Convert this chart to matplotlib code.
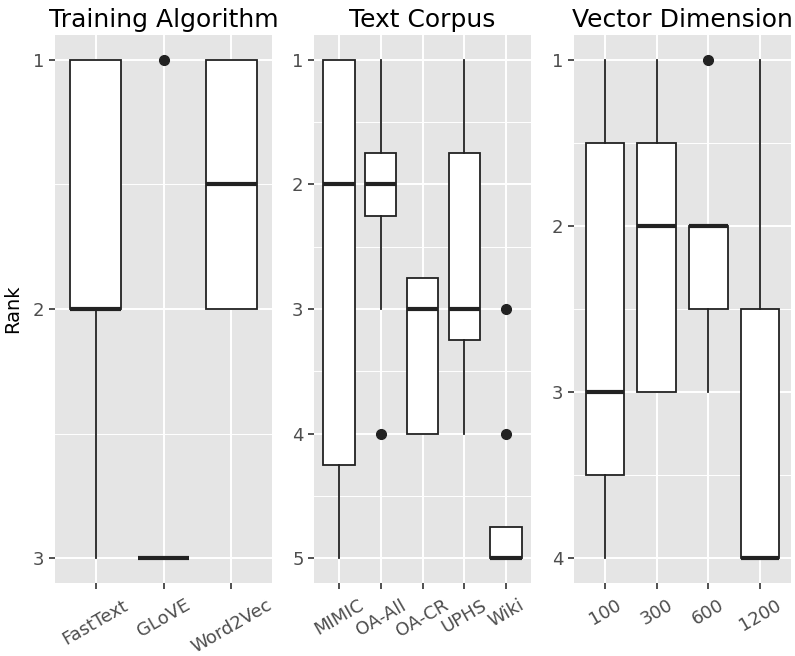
import matplotlib
matplotlib.use("Agg")
import matplotlib.pyplot as plt

# panel titles and categories
titles = ["Training Algorithm", "Text Corpus", "Vector Dimension"]
cats_algo = ["FastText", "GLoVE", "Word2Vec"]
cats_corpus = ["MIMIC", "OA-All", "OA-CR", "UPHS", "Wiki"]
cats_dim = ["100", "300", "600", "1200"]

# box stats per category: lower whisker, q1, median, q3, upper whisker, outliers
whislo_algo = [1, 3, 1]
q1_algo = [1, 3, 1]
med_algo = [2, 3, 1.5]
q3_algo = [2, 3, 2]
whishi_algo = [3, 3, 2]
fliers_algo = [[], [1], []]

whislo_corpus = [1, 1, 2.75, 1, 4.75]
q1_corpus = [1, 1.75, 2.75, 1.75, 4.75]
med_corpus = [2, 2, 3, 3, 5]
q3_corpus = [4.25, 2.25, 4, 3.25, 5]
whishi_corpus = [5, 3, 4, 4, 5]
fliers_corpus = [[], [4], [], [], [3, 4]]

whislo_dim = [1, 1, 2, 1]
q1_dim = [1.5, 1.5, 2, 2.5]
med_dim = [3, 2, 2, 4]
q3_dim = [3.5, 3, 2.5, 4]
whishi_dim = [4, 3, 3, 4]
fliers_dim = [[], [], [1], []]

panels = [
    (cats_algo, whislo_algo, q1_algo, med_algo, q3_algo, whishi_algo, fliers_algo, [1, 2, 3]),
    (cats_corpus, whislo_corpus, q1_corpus, med_corpus, q3_corpus, whishi_corpus, fliers_corpus, [1, 2, 3, 4, 5]),
    (cats_dim, whislo_dim, q1_dim, med_dim, q3_dim, whishi_dim, fliers_dim, [1, 2, 3, 4]),
]

fig = plt.figure(figsize=(7.95, 6.56), dpi=100)
W, H = 795, 656
lefts = [55, 314, 574]
pw = 217
top, bottom = 35, 583

for i, (cats, wlo, q1, med, q3, whi, fl, yt) in enumerate(panels):
    ax = fig.add_axes([lefts[i] / W, 1 - bottom / H, pw / W, (bottom - top) / H])
    ax.set_facecolor("#e5e5e5")
    stats = []
    for j in range(len(cats)):
        stats.append(dict(whislo=wlo[j], q1=q1[j], med=med[j], q3=q3[j],
                          whishi=whi[j], fliers=fl[j]))
    pos = list(range(1, len(cats) + 1))
    ax.bxp(stats, positions=pos, widths=0.75, patch_artist=True, showcaps=False,
           boxprops=dict(facecolor="white", edgecolor="#222222", linewidth=1.3),
           whiskerprops=dict(color="#222222", linewidth=1.3),
           medianprops=dict(color="#222222", linewidth=3, solid_capstyle="butt"),
           flierprops=dict(marker="o", markerfacecolor="#222222",
                           markeredgecolor="#222222", markersize=7))
    ymin, ymax = yt[0], yt[-1]
    pad = (ymax - ymin) * 0.05
    ax.set_ylim(ymax + pad, ymin - pad)
    ax.set_xlim(0.4, len(cats) + 0.6)
    ax.set_yticks(yt)
    ax.set_yticks([v + 0.5 for v in yt[:-1]], minor=True)
    ax.set_xticks(pos)
    ax.set_xticklabels(cats, rotation=30, ha="center", va="top")
    ax.grid(which="major", color="white", linewidth=1.4)
    ax.grid(which="minor", axis="y", color="white", linewidth=0.7)
    ax.set_axisbelow(True)
    for s in ax.spines.values():
        s.set_visible(False)
    ax.tick_params(which="major", length=4.5, width=1.2, color="#333333",
                   labelsize=13, labelcolor="#4d4d4d", pad=3)
    ax.tick_params(axis="x", which="major", pad=5)
    ax.tick_params(which="minor", length=0)
    ax.set_title(titles[i], fontsize=18, pad=6)
    if i == 0:
        ax.set_ylabel("Rank", fontsize=14, labelpad=8)

fig.savefig("out.png", dpi=100)
